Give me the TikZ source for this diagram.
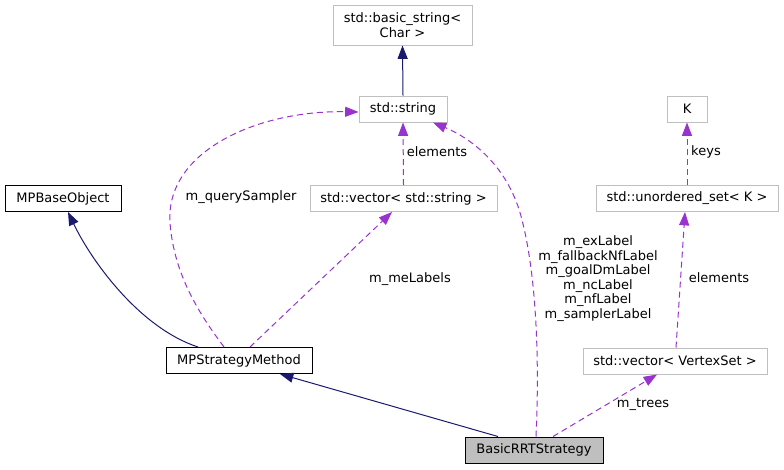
\documentclass[tikz,border=0pt]{standalone}
\usepackage{fontspec}
\setmainfont{DejaVu Sans}
\usetikzlibrary{arrows.meta,calc}

\definecolor{inhblue}{HTML}{191970}
\definecolor{usepurple}{HTML}{9A32CD}
\definecolor{boxgray}{HTML}{BFBFBF}
\newcommand{\dotfont}{\fontsize{9.75}{10.95}\selectfont}

\tikzset{
  cls/.style={draw=black, line width=0.75pt, inner sep=0pt, minimum height=19.5pt, font=\dotfont, align=center},
  extcls/.style={cls, draw=boxgray},
  curcls/.style={cls, fill=boxgray},
  inh/.style={draw=inhblue, line width=0.75pt, -{Triangle[length=10pt,width=7.5pt]}},
  mem/.style={draw=usepurple, line width=0.75pt, dash pattern=on 4.5pt off 3pt, -{Triangle[length=10pt,width=7.5pt]}},
  lbl/.style={inner sep=0pt, font=\dotfont, align=center}
}

\begin{document}
\begin{tikzpicture}[x=0.75pt,y=0.75pt,yscale=-1,xscale=1]
\useasboundingbox (0,0) rectangle (784,469);

% Class boxes
\node [extcls, minimum width=104.25pt, minimum height=30pt] (bstr) at (402.5,25) {std::basic\_string<\\Char >};
\node [extcls, minimum width=66pt] (str) at (403,109) {std::string};
\node [cls, minimum width=87pt] (mpb) at (63,198.5) {MPBaseObject};
\node [extcls, minimum width=140.25pt] (vstr) at (403.5,198.5) {std::vector< std::string >};
\node [extcls, minimum width=30pt] (keyk) at (687,109) {K};
\node [extcls, minimum width=136.5pt] (uset) at (687,198.5) {std::unordered\_set< K >};
\node [cls, minimum width=109.5pt] (msm) at (239,360.5) {MPStrategyMethod};
\node [extcls, minimum width=138pt] (vvs) at (675,361) {std::vector< VertexSet >};
\node [curcls, minimum width=103.5pt] (brrt) at (534,450) {BasicRRTStrategy};

% Inheritance
\draw [inh] (str.north) -- (bstr.south);
\draw [inh] ($(msm.north)+(-41,0)$) .. controls (140,328) and (92,262) .. ($(mpb.south)+(5,0)$);
\draw [inh] ($(brrt.north)+(-36,0)$) -- ($(msm.south)+(41,0)$);

% Members
\draw [mem] ($(msm.north)+(-15,0)$) .. controls (200,315) and (174,275) .. (170,223) .. controls (165,150) and (260,110) .. ($(str.west)+(0,3)$);
\draw [mem] (vstr.north) -- (str.south);
\draw [mem] ($(msm.north)+(11,0)$) -- ($(vstr.south)+(-11.5,0)$);
\draw [mem] ($(brrt.north)+(2,0)$) .. controls (540,350) and (535,270) .. (522,220) .. controls (510,170) and (475,140) .. ($(str.south)+(30,0)$);
\draw [mem] (uset.north) -- (keyk.south);
\draw [mem] ($(vvs.north)+(1,0)$) -- ($(uset.south)+(-2,0)$);
\draw [mem] ($(brrt.north)+(19,0)$) -- ($(vvs.south)+(-18,0)$);

% Edge labels
\node [lbl] (lquery) at (241,197) {m\_querySampler};
\node [lbl] (lelem) at (437,152) {elements};
\node [lbl] (lmel) at (410,279) {m\_meLabels};
\node [lbl] (llabels) at (598,278.5) {m\_exLabel\\m\_fallbackNfLabel\\m\_goalDmLabel\\m\_ncLabel\\m\_nfLabel\\m\_samplerLabel};
\node [lbl] (lkeys) at (706,152) {keys};
\node [lbl] (lvelem) at (719,278) {elements};
\node [lbl] (ltrees) at (643,404) {m\_trees};
\end{tikzpicture}
\end{document}
